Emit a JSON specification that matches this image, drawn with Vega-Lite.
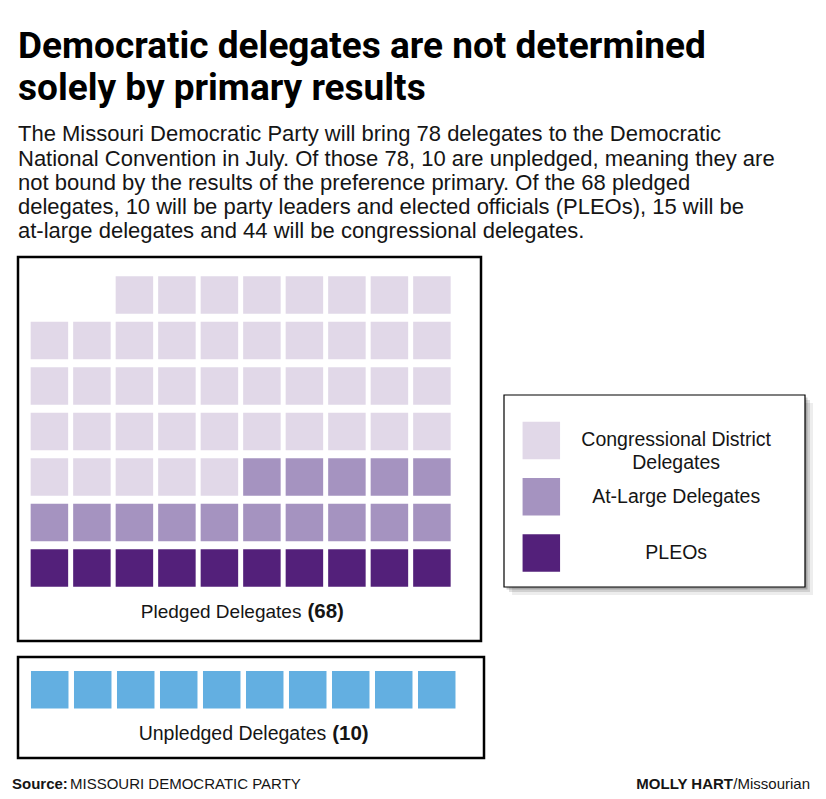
{
  "$schema": "https://vega.github.io/schema/vega-lite/v6.json",
  "background": "white",
  "padding": {"left": 12, "top": 28, "right": 0, "bottom": 0},
  "title": {
    "text": ["Democratic delegates are not determined", "solely by primary results"],
    "subtitle": [
      "The Missouri Democratic Party will bring 78 delegates to the Democratic",
      "National Convention in July. Of those 78, 10 are unpledged, meaning they are",
      "not bound by the results of the preference primary. Of the 68 pledged",
      "delegates, 10 will be party leaders and elected officials (PLEOs), 15 will be",
      "at-large delegates and 44 will be congressional delegates."
    ],
    "anchor": "start",
    "frame": "group",
    "font": "Roboto",
    "fontWeight": "bold",
    "fontSize": 37,
    "lineHeight": 42,
    "color": "#000000",
    "subtitleFont": "Liberation Sans",
    "subtitleFontSize": 22,
    "subtitleLineHeight": 24.25,
    "subtitleColor": "#151515",
    "subtitlePadding": 16,
    "offset": 12.5
  },
  "config": {"view": {"stroke": null}},
  "datasets": {
    "pledged": [
      {"group": "PLEOs", "col": 0, "row": 0}, {"group": "PLEOs", "col": 1, "row": 0}, {"group": "PLEOs", "col": 2, "row": 0}, {"group": "PLEOs", "col": 3, "row": 0}, {"group": "PLEOs", "col": 4, "row": 0},
      {"group": "PLEOs", "col": 5, "row": 0}, {"group": "PLEOs", "col": 6, "row": 0}, {"group": "PLEOs", "col": 7, "row": 0}, {"group": "PLEOs", "col": 8, "row": 0}, {"group": "PLEOs", "col": 9, "row": 0},
      {"group": "At-Large Delegates", "col": 0, "row": 1}, {"group": "At-Large Delegates", "col": 1, "row": 1}, {"group": "At-Large Delegates", "col": 2, "row": 1}, {"group": "At-Large Delegates", "col": 3, "row": 1}, {"group": "At-Large Delegates", "col": 4, "row": 1},
      {"group": "At-Large Delegates", "col": 5, "row": 1}, {"group": "At-Large Delegates", "col": 6, "row": 1}, {"group": "At-Large Delegates", "col": 7, "row": 1}, {"group": "At-Large Delegates", "col": 8, "row": 1}, {"group": "At-Large Delegates", "col": 9, "row": 1},
      {"group": "Congressional District Delegates", "col": 0, "row": 2}, {"group": "Congressional District Delegates", "col": 1, "row": 2}, {"group": "Congressional District Delegates", "col": 2, "row": 2}, {"group": "Congressional District Delegates", "col": 3, "row": 2}, {"group": "Congressional District Delegates", "col": 4, "row": 2},
      {"group": "At-Large Delegates", "col": 5, "row": 2}, {"group": "At-Large Delegates", "col": 6, "row": 2}, {"group": "At-Large Delegates", "col": 7, "row": 2}, {"group": "At-Large Delegates", "col": 8, "row": 2}, {"group": "At-Large Delegates", "col": 9, "row": 2},
      {"group": "Congressional District Delegates", "col": 0, "row": 3}, {"group": "Congressional District Delegates", "col": 1, "row": 3}, {"group": "Congressional District Delegates", "col": 2, "row": 3}, {"group": "Congressional District Delegates", "col": 3, "row": 3}, {"group": "Congressional District Delegates", "col": 4, "row": 3},
      {"group": "Congressional District Delegates", "col": 5, "row": 3}, {"group": "Congressional District Delegates", "col": 6, "row": 3}, {"group": "Congressional District Delegates", "col": 7, "row": 3}, {"group": "Congressional District Delegates", "col": 8, "row": 3}, {"group": "Congressional District Delegates", "col": 9, "row": 3},
      {"group": "Congressional District Delegates", "col": 0, "row": 4}, {"group": "Congressional District Delegates", "col": 1, "row": 4}, {"group": "Congressional District Delegates", "col": 2, "row": 4}, {"group": "Congressional District Delegates", "col": 3, "row": 4}, {"group": "Congressional District Delegates", "col": 4, "row": 4},
      {"group": "Congressional District Delegates", "col": 5, "row": 4}, {"group": "Congressional District Delegates", "col": 6, "row": 4}, {"group": "Congressional District Delegates", "col": 7, "row": 4}, {"group": "Congressional District Delegates", "col": 8, "row": 4}, {"group": "Congressional District Delegates", "col": 9, "row": 4},
      {"group": "Congressional District Delegates", "col": 0, "row": 5}, {"group": "Congressional District Delegates", "col": 1, "row": 5}, {"group": "Congressional District Delegates", "col": 2, "row": 5}, {"group": "Congressional District Delegates", "col": 3, "row": 5}, {"group": "Congressional District Delegates", "col": 4, "row": 5},
      {"group": "Congressional District Delegates", "col": 5, "row": 5}, {"group": "Congressional District Delegates", "col": 6, "row": 5}, {"group": "Congressional District Delegates", "col": 7, "row": 5}, {"group": "Congressional District Delegates", "col": 8, "row": 5}, {"group": "Congressional District Delegates", "col": 9, "row": 5},
      {"group": "Congressional District Delegates", "col": 2, "row": 6}, {"group": "Congressional District Delegates", "col": 3, "row": 6}, {"group": "Congressional District Delegates", "col": 4, "row": 6},
      {"group": "Congressional District Delegates", "col": 5, "row": 6}, {"group": "Congressional District Delegates", "col": 6, "row": 6}, {"group": "Congressional District Delegates", "col": 7, "row": 6}, {"group": "Congressional District Delegates", "col": 8, "row": 6}, {"group": "Congressional District Delegates", "col": 9, "row": 6}
    ],
    "unpledged": [
      {"group": "Unpledged Delegates", "col": 0, "row": 0}, {"group": "Unpledged Delegates", "col": 1, "row": 0}, {"group": "Unpledged Delegates", "col": 2, "row": 0}, {"group": "Unpledged Delegates", "col": 3, "row": 0}, {"group": "Unpledged Delegates", "col": 4, "row": 0},
      {"group": "Unpledged Delegates", "col": 5, "row": 0}, {"group": "Unpledged Delegates", "col": 6, "row": 0}, {"group": "Unpledged Delegates", "col": 7, "row": 0}, {"group": "Unpledged Delegates", "col": 8, "row": 0}, {"group": "Unpledged Delegates", "col": 9, "row": 0}
    ],
    "legend": [
      {"group": "Congressional District Delegates", "label": ["Congressional District", "Delegates"], "item": 0},
      {"group": "At-Large Delegates", "label": "At-Large Delegates", "item": 1},
      {"group": "PLEOs", "label": "PLEOs", "item": 2}
    ],
    "one": [{}]
  },
  "vconcat": [
    {
      "hconcat": [
        {
          "vconcat": [
            {
              "width": 463,
              "height": 384,
              "view": {"stroke": "#000000", "strokeWidth": 2.5},
              "layer": [
                {
                  "data": {"name": "pledged"},
                  "mark": {"type": "square", "size": 1406, "opacity": 1},
                  "encoding": {
                    "x": {"field": "col", "type": "quantitative", "scale": {"domain": [-0.739, 10.155], "nice": false, "zero": false}, "axis": null},
                    "y": {"field": "row", "type": "quantitative", "scale": {"domain": [-1.604, 6.835], "nice": false, "zero": false}, "axis": null},
                    "color": {"field": "group", "type": "nominal", "scale": {"domain": ["Congressional District Delegates", "At-Large Delegates", "PLEOs", "Unpledged Delegates"], "range": ["#e1d8e8", "#a593c0", "#53207a", "#63afe1"]}, "legend": null}
                  }
                },
                {
                  "data": {"name": "one"},
                  "mark": {"type": "text", "align": "right", "baseline": "alphabetic", "font": "Liberation Sans", "fontSize": 19, "color": "#151515", "dx": -3},
                  "encoding": {"x": {"datum": 6.0, "type": "quantitative"}, "y": {"datum": -1.1, "type": "quantitative"}, "text": {"value": "Pledged Delegates"}}
                },
                {
                  "data": {"name": "one"},
                  "mark": {"type": "text", "align": "left", "baseline": "alphabetic", "font": "Liberation Sans", "fontSize": 20.5, "fontWeight": "bold", "color": "#151515", "dx": 3},
                  "encoding": {"x": {"datum": 6.0, "type": "quantitative"}, "y": {"datum": -1.1, "type": "quantitative"}, "text": {"value": "(68)"}}
                }
              ]
            },
            {
              "width": 466,
              "height": 101,
              "view": {"stroke": "#000000", "strokeWidth": 2.5},
              "layer": [
                {
                  "data": {"name": "unpledged"},
                  "mark": {"type": "square", "size": 1406, "opacity": 1},
                  "encoding": {
                    "x": {"field": "col", "type": "quantitative", "scale": {"domain": [-0.738, 10.099], "nice": false, "zero": false}, "axis": null},
                    "y": {"field": "row", "type": "quantitative", "scale": {"domain": [-1.366, 0.654], "nice": false, "zero": false}, "axis": null},
                    "color": {"field": "group", "type": "nominal", "scale": {"domain": ["Congressional District Delegates", "At-Large Delegates", "PLEOs", "Unpledged Delegates"], "range": ["#e1d8e8", "#a593c0", "#53207a", "#63afe1"]}, "legend": null}
                  }
                },
                {
                  "data": {"name": "one"},
                  "mark": {"type": "text", "align": "right", "baseline": "alphabetic", "font": "Liberation Sans", "fontSize": 19.5, "color": "#151515", "dx": -3},
                  "encoding": {"x": {"datum": 6.5, "type": "quantitative"}, "y": {"datum": -1.0, "type": "quantitative"}, "text": {"value": "Unpledged Delegates"}}
                },
                {
                  "data": {"name": "one"},
                  "mark": {"type": "text", "align": "left", "baseline": "alphabetic", "font": "Liberation Sans", "fontSize": 20.5, "fontWeight": "bold", "color": "#151515", "dx": 3},
                  "encoding": {"x": {"datum": 6.5, "type": "quantitative"}, "y": {"datum": -1.0, "type": "quantitative"}, "text": {"value": "(10)"}}
                }
              ]
            }
          ],
          "spacing": 12
        },
        {
          "width": 301,
          "height": 501,
          "layer": [
            {
              "data": {"name": "one"},
              "mark": {"type": "rect", "color": "#000000", "opacity": 0.07},
              "encoding": {
                "x": {"datum": 0.266, "type": "quantitative", "scale": {"domain": [0, 10], "nice": false, "zero": false}, "axis": null},
                "x2": {"datum": 10.266},
                "y": {"datum": -0.666, "type": "quantitative", "scale": {"domain": [-3.261, 5.646], "nice": false, "zero": false, "reverse": true}, "axis": null},
                "y2": {"datum": 2.748}
              }
            },
            {
              "data": {"name": "one"},
              "mark": {"type": "rect", "color": "#000000", "opacity": 0.12},
              "encoding": {"x": {"datum": 0.166, "type": "quantitative"}, "x2": {"datum": 10.166}, "y": {"datum": -0.719, "type": "quantitative"}, "y2": {"datum": 2.695}}
            },
            {
              "data": {"name": "one"},
              "mark": {"type": "rect", "color": "#000000", "opacity": 0.2},
              "encoding": {"x": {"datum": 0.083, "type": "quantitative"}, "x2": {"datum": 10.083}, "y": {"datum": -0.763, "type": "quantitative"}, "y2": {"datum": 2.651}}
            },
            {
              "data": {"name": "one"},
              "mark": {"type": "rect", "fill": "#ffffff", "stroke": "#000000", "strokeWidth": 1.2, "opacity": 1},
              "encoding": {"x": {"datum": 0, "type": "quantitative"}, "x2": {"datum": 10}, "y": {"datum": -0.808, "type": "quantitative"}, "y2": {"datum": 2.606}}
            },
            {
              "data": {"name": "legend"},
              "mark": {"type": "square", "size": 1406, "opacity": 1},
              "encoding": {
                "x": {"datum": 1.24, "type": "quantitative"},
                "y": {"field": "item", "type": "quantitative"},
                "color": {"field": "group", "type": "nominal", "scale": {"domain": ["Congressional District Delegates", "At-Large Delegates", "PLEOs", "Unpledged Delegates"], "range": ["#e1d8e8", "#a593c0", "#53207a", "#63afe1"]}, "legend": null}
              }
            },
            {
              "data": {"name": "legend"},
              "mark": {"type": "text", "align": "center", "baseline": "middle", "font": "Liberation Sans", "fontSize": 19.5, "lineHeight": 23, "color": "#151515"},
              "encoding": {
                "x": {"datum": 5.72, "type": "quantitative"},
                "y": {"field": "item", "type": "quantitative"},
                "text": {"field": "label", "type": "nominal"}
              }
            }
          ]
        }
      ],
      "spacing": 17
    },
    {
      "width": 792,
      "height": 20,
      "data": {"name": "one"},
      "layer": [
        {
          "mark": {"type": "text", "align": "left", "baseline": "alphabetic", "font": "Liberation Sans", "fontSize": 15, "fontWeight": "bold", "color": "#151515", "dx": -6},
          "encoding": {
            "x": {"datum": 0, "type": "quantitative", "scale": {"domain": [0, 1], "nice": false, "zero": false}, "axis": null},
            "y": {"datum": 0.265, "type": "quantitative", "scale": {"domain": [0, 1], "nice": false, "zero": false}, "axis": null},
            "text": {"value": "Source:"}
          }
        },
        {
          "mark": {"type": "text", "align": "left", "baseline": "alphabetic", "font": "Liberation Sans", "fontSize": 15, "color": "#151515", "dx": 52},
          "encoding": {"x": {"datum": 0, "type": "quantitative"}, "y": {"datum": 0.265, "type": "quantitative"}, "text": {"value": "MISSOURI DEMOCRATIC PARTY"}}
        },
        {
          "mark": {"type": "text", "align": "right", "baseline": "alphabetic", "font": "Liberation Sans", "fontSize": 15, "color": "#151515"},
          "encoding": {"x": {"datum": 1, "type": "quantitative"}, "y": {"datum": 0.265, "type": "quantitative"}, "text": {"value": "/Missourian"}}
        },
        {
          "mark": {"type": "text", "align": "right", "baseline": "alphabetic", "font": "Liberation Sans", "fontSize": 15, "fontWeight": "bold", "color": "#151515", "dx": -77},
          "encoding": {"x": {"datum": 1, "type": "quantitative"}, "y": {"datum": 0.265, "type": "quantitative"}, "text": {"value": "MOLLY HART"}}
        }
      ]
    }
  ],
  "spacing": 14
}
